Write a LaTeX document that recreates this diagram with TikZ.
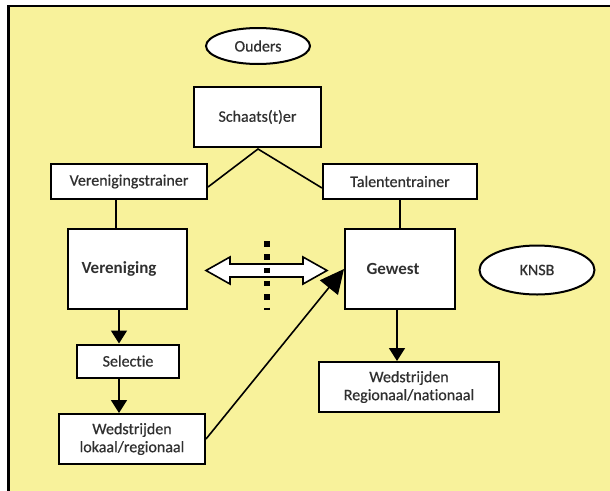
\documentclass[tikz,border=0pt]{standalone}
\usepackage{fontspec}
\setmainfont{Carlito}[Ligatures=NoCommon]
\newfontfamily\boxfont{Carlito}[FakeBold=0.6,Ligatures=NoCommon]
\usetikzlibrary{arrows.meta,shapes.geometric}
\definecolor{paper}{RGB}{248,242,155}
\definecolor{ink}{RGB}{48,48,48}
\begin{document}
\begin{tikzpicture}[x=1pt,y=-1pt,
  box/.style={draw=black,line width=2pt,fill=white,inner sep=0pt,align=center,
    font=\boxfont\fontsize{16}{18}\selectfont,text=ink},
  oval/.style={box,ellipse},
  boldtxt/.style={font=\fontsize{17}{19}\selectfont\bfseries,text=ink,inner sep=0pt},
  link/.style={line width=1.6pt},
  flow/.style={link,-{Triangle[width=16pt,length=13pt]}},
  bigflow/.style={link,-{Triangle[width=23pt,length=24pt]}},
]
\useasboundingbox (0,0) rectangle (610,490);
\clip (0,0) rectangle (610,490);
% sheet with its frame
\filldraw[fill=paper,draw=black,line width=2.5pt] (8.6,6) rectangle (640,520);

% nodes
\node[oval,minimum width=104pt,minimum height=36pt] (ouders) at (258,46) {Ouders};
\node[box,minimum width=127pt,minimum height=60pt] (schaats) at (257.5,117) {Schaats(t)er};
\node[box,minimum width=156pt,minimum height=35pt] (vtrainer) at (129,181.5) {Verenigingstrainer};
\node[box,minimum width=154pt,minimum height=35pt] (ttrainer) at (400,181.5) {Talententrainer};
\node[box,minimum width=119pt,minimum height=80pt] (vereniging) at (127.5,269) {};
\node[boldtxt] (vereniginglbl) at ([xshift=-8.5pt]vereniging.center) {Vereniging};
\node[box,minimum width=110pt,minimum height=80pt] (gewest) at (400,269) {};
\node[boldtxt] (gewestlbl) at ([xshift=-7pt]gewest.center) {Gewest};
\node[oval,minimum width=115pt,minimum height=49pt] (knsb) at (537,270) {KNSB};
\node[box,minimum width=102pt,minimum height=33pt] (selectie) at (128,361) {Selectie};
\node[box,minimum width=146pt,minimum height=50pt] (wlokaal) at (132,439) {Wedstrijden\\lokaal/regionaal};
\node[box,minimum width=180pt,minimum height=50pt] (wregio) at (409,387) {Wedstrijden\\Regionaal/nationaal};

% helper columns for the vertical connectors
\coordinate (colA) at (116,0);
\coordinate (colB) at (119,0);
\coordinate (colC) at (397,0);
\coordinate (apex) at (258,149);

% connectors
\draw[link] (vtrainer.east |- 0,187) -- (apex) -- (ttrainer.west |- 0,188);
\draw[link] (vtrainer.south -| colA) -- (vereniging.north -| colA);
\draw[link] (ttrainer.south) -- (gewest.north);
\draw[flow] (vereniging.south -| colB) -- (selectie.north -| colB);
\draw[flow] (selectie.south -| colB) -- (wlokaal.north -| colB);
\draw[flow] (gewest.south -| colC) -- (wregio.north -| colC);
\draw[bigflow] (wlokaal.east) -- (gewest.west);

% two-way exchange arrow
\filldraw[fill=white,draw=black,line width=1.6pt,line join=miter]
  (206,270.5) -- (230,257) -- (230,264) -- (303,264) -- (303,257) -- (327,270.5)
  -- (303,284) -- (303,277) -- (230,277) -- (230,284) -- cycle;
% dotted divider
\draw[line width=6pt,dash pattern=on 5.5pt off 7.8pt] (267,241) -- (267,310);
\end{tikzpicture}
\end{document}
